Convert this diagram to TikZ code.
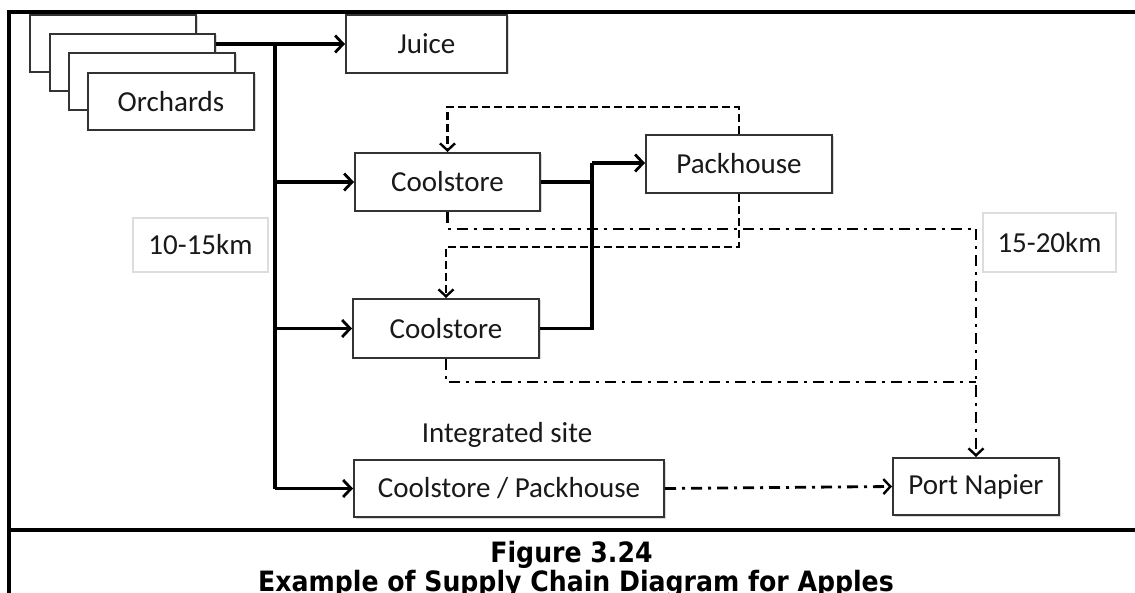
\documentclass[tikz,border=0pt]{standalone}
\usepackage{fontspec}
\setmainfont{Carlito}
\newfontfamily\capfont{DejaVu Sans Condensed}
\usetikzlibrary{arrows.meta,shadows,calc}
\definecolor{boxline}{HTML}{333333}
\definecolor{kmline}{HTML}{DDDDDD}
\tikzset{
  procbox/.style={draw=boxline, line width=2pt, fill=white, inner sep=0pt,
    font=\fontsize{29}{32}\selectfont, text=black!90,
    drop shadow={shadow xshift=1.5pt, shadow yshift=-1.5pt, opacity=0.3, fill=gray}},
  kmbox/.style={draw=kmline, line width=1.2pt, fill=white, inner sep=0pt,
    font=\fontsize{29}{32}\selectfont, text=black!90},
  flow/.style={line width=3.2pt, -{Straight Barb[length=8pt,width=17pt,line width=2.8pt]}},
  flowplain/.style={line width=3.2pt},
  trunk/.style={line width=4.8pt},
  dsh/.style={line width=2.8pt, dash pattern=on 8pt off 4pt},
  dshdot/.style={line width=2.8pt, dash pattern=on 11pt off 6pt on 3pt off 6pt},
  tip/.style={-{Straight Barb[length=7pt,width=15pt,line width=2.4pt]}},
  frame/.style={line width=3.2pt},
  captxt/.style={font=\capfont\bfseries\fontsize{28}{30}\selectfont, inner sep=0pt}
}
\begin{document}
\begin{tikzpicture}[x=1pt,y=-1pt]
\useasboundingbox (0,0) rectangle (1135,593);
% frame
\draw[frame] (1140,12) -- (9,12) -- (9,600);
\draw[frame] (9,530) -- (1140,530);
% orchards stack
\node[procbox, minimum width=166pt, minimum height=57pt] (o1) at (113,43.5) {};
\node[procbox, minimum width=165pt, minimum height=57pt] (o2) at (132.5,62.5) {};
\node[procbox, minimum width=166pt, minimum height=57pt] (o3) at (152,81.5) {};
\node[procbox, minimum width=166pt, minimum height=57pt] (orch) at (171,101.5) {Orchards};
% process boxes
\node[procbox, minimum width=161pt, minimum height=58pt] (juice) at (426.5,44) {Juice};
\node[procbox, minimum width=185pt, minimum height=58pt] (cs1) at (447.5,182) {Coolstore};
\node[procbox, minimum width=186pt, minimum height=58pt] (pack) at (739,164) {Packhouse};
\node[procbox, minimum width=186pt, minimum height=59pt] (cs2) at (446,328.5) {Coolstore};
\node[procbox, minimum width=310pt, minimum height=57pt] (csp) at (509,488.5) {Coolstore / Packhouse};
\node[procbox, minimum width=166pt, minimum height=57pt] (port) at (976,486.5) {Port Napier};
% distance labels
\node[kmbox, minimum width=135pt, minimum height=54pt] (km1) at (200.5,245) {10-15km};
\node[kmbox, minimum width=133pt, minimum height=59pt] (km2) at (1049.5,242.5) {15-20km};
\node[font=\fontsize{29}{32}\selectfont, text=black!90, inner sep=0pt] (integ) at (507,435) {Integrated site};
% helper coordinates
\coordinate (t) at (275,44);
\coordinate (j) at (592,163);
\coordinate (d1) at (0,107);
\coordinate (d2) at (0,247);
\coordinate (dd1) at (0,229);
\coordinate (dd2) at (0,382);
% solid flows
\draw[trunk] (o2.east |- juice.west) -- (t) -- (t |- csp.west);
\draw[flow] (t) -- (juice.west);
\draw[flow] (t |- cs1.west) -- (cs1.west);
\draw[flow] (t |- cs2.west) -- (cs2.west);
\draw[flow] (t |- csp.west) -- (csp.west);
\draw[flowplain] (cs1.east) -| (j);
\draw[flowplain] (cs2.east) -| (j);
\draw[flow] (j) -- (j -| pack.west);
% dashed returns
\draw[dsh, tip] (pack.north) -- (pack.north |- d1) -| (cs1.north);
\draw[dsh, tip] (pack.south) -- (pack.south |- d2) -| (cs2.north);
% dash-dot to port
\draw[dshdot, tip] (cs1.south) -- (cs1.south |- dd1) -| (port.north);
\draw[dshdot] (cs2.south) -- (cs2.south |- dd2) -- (port.north |- dd2);
\draw[dshdot, tip] (csp.east) -- (port.west);
% caption
\node[captxt] (fig) at (571.5,555) {Figure 3.24};
\node[captxt] (title) at (576,584) {Example of Supply Chain Diagram for Apples};
\end{tikzpicture}
\end{document}
